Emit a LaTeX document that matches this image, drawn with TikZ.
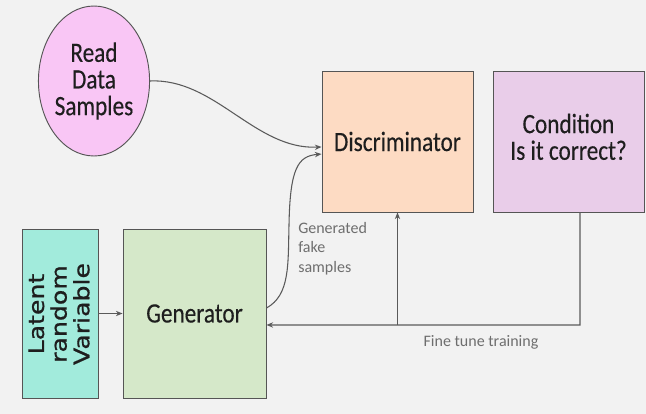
\documentclass[tikz,border=0pt]{standalone}
\usepackage{fontspec}
\setmainfont{Carlito}
\newfontfamily\blockfont[FakeStretch=0.83,FakeBold=0.3]{Carlito}
\newfontfamily\latfont[FakeStretch=1.18,FakeBold=0.8]{DejaVu Sans}
\usetikzlibrary{arrows.meta,shapes.geometric}
\definecolor{bgcol}{HTML}{F2F2F2}
\definecolor{edgecol}{HTML}{555555}
\definecolor{linecol}{HTML}{5A5A5A}
\definecolor{txtcol}{HTML}{1E1E1E}
\definecolor{labcol}{HTML}{6E6E6E}
\definecolor{pinkfill}{HTML}{F9C6F5}
\definecolor{peachfill}{HTML}{FDDBC3}
\definecolor{lilacfill}{HTML}{E9CDE9}
\definecolor{tealfill}{HTML}{A2EBDC}
\definecolor{greenfill}{HTML}{D5E8C9}
\tikzset{
  block/.style={draw=edgecol, line width=0.7pt, inner sep=0pt, text=txtcol,
    font=\blockfont\fontsize{21}{20}\selectfont, align=center},
  blocktext/.style={inner sep=0pt, text=txtcol,
    font=\blockfont\fontsize{21}{20}\selectfont, align=center},
  arr/.style={draw=linecol, line width=0.8pt, -{Stealth[length=5pt,width=4pt]}},
  lab/.style={text=labcol, font=\fontsize{12}{14.5}\selectfont, align=left, inner sep=0pt},
}
\begin{document}
\begin{tikzpicture}[x=0.75pt, y=-0.75pt]
  \fill[bgcol] (0,0) rectangle (646,414);
  \useasboundingbox (0,0) rectangle (646,414);

  % blocks
  \node[block, ellipse, fill=pinkfill, minimum width=81pt, minimum height=112.5pt]
        (read) at (94,81) {Read\\Data\\Samples};
  \node[block, fill=peachfill, minimum width=113.25pt, minimum height=105.75pt]
        (disc) at (397.5,141.5) {Discriminator};
  \node[block, fill=lilacfill, minimum width=113.25pt, minimum height=105.75pt]
        (cond) at (568.5,141.5) {};
  \node[blocktext] (condtxt) at ([yshift=3.5pt]cond.center) {Condition\\Is it correct?};
  \node[block, fill=tealfill, minimum width=57pt, minimum height=126.75pt] (lat) at (60,313.5) {};
  \node[rotate=90, align=center, text=txtcol, inner sep=0pt,
        font=\latfont\fontsize{16}{17}\selectfont] (lattxt) at (59,314) {Latent\\random\\Variable};
  \node[block, fill=greenfill, minimum width=107.25pt, minimum height=126.75pt]
        (gen) at (194.5,313.5) {Generator};

  % connectors
  \draw[arr] (lat.east) -- (gen.west);
  \draw[arr] (read.east) .. controls (215,78) and (255,150) .. ([yshift=-4.1pt]disc.west);
  \draw[arr] ([yshift=4.1pt]gen.east) .. controls (290,295) and (288,265) .. (289,225)
             .. controls (290,168) and (298,156) .. ([yshift=-9.4pt]disc.west);
  \coordinate (turn) at (580,325);
  \coordinate (join) at (397.5,325);
  \draw[arr] ([xshift=8.6pt]cond.south) -- (turn) -- ([yshift=-8.6pt]gen.east);
  \draw[arr] (join) -- (disc.south);

  % labels
  \node[lab, anchor=north west] (fake) at (298,222) {Generated\\fake\\samples};
  \node[lab] (tune) at (481,342) {Fine tune training};
\end{tikzpicture}
\end{document}
